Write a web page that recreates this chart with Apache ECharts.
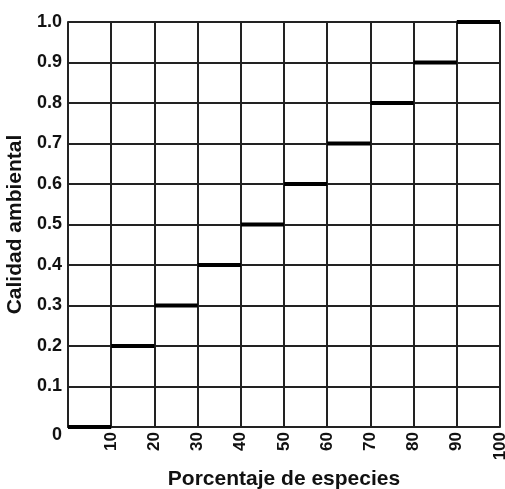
<!DOCTYPE html>
<html>
<head>
<meta charset="utf-8">
<style>
  html, body { margin: 0; padding: 0; background: #fff; }
  #main { width: 505px; height: 489px; }
</style>
<script src="https://cdn.jsdelivr.net/npm/echarts@6/dist/echarts.min.js"></script>
</head>
<body>
<div id="main"></div>
<script>
// step segments: each one runs from start to start + 10
var stepStarts = [0, 10, 20, 30, 40, 50, 60, 70, 80, 90];
var stepLevels = [0, 0.2, 0.3, 0.4, 0.5, 0.6, 0.7, 0.8, 0.9, 1.0];
var stepWidth = 10;

var chartDom = document.getElementById('main');
var myChart = echarts.init(chartDom, null, { renderer: 'canvas' });

var segData = stepStarts.map(function (s, i) {
  return [s, s + stepWidth, stepLevels[i]];
});

var font = 'Liberation Sans';

var option = {
  backgroundColor: '#ffffff',
  animation: false,
  grid: { left: 68, right: 5, top: 22, bottom: 62, containLabel: false, outerBoundsMode: 'none' },
  xAxis: {
    type: 'value',
    min: 0, max: 100, interval: 10,
    name: 'Porcentaje de especies',
    nameLocation: 'middle',
    nameGap: 42,
    nameTextStyle: { fontFamily: font, fontWeight: 'bold', fontSize: 21, color: '#111' },
    axisLine: { show: true, lineStyle: { color: '#222', width: 2 } },
    axisTick: { show: false },
    axisLabel: {
      rotate: 90,
      margin: 5,
      fontFamily: font, fontWeight: 'bold', fontSize: 17, color: '#111',
      formatter: function (v) { return v === 0 ? '' : String(v); }
    },
    splitLine: { show: true, lineStyle: { color: '#222', width: 2 } }
  },
  yAxis: {
    type: 'value',
    min: 0, max: 1, interval: 0.1,
    name: 'Calidad ambiental',
    nameLocation: 'middle',
    nameGap: 37,
    nameTextStyle: { fontFamily: font, fontWeight: 'bold', fontSize: 21, color: '#111' },
    axisLine: { show: true, lineStyle: { color: '#222', width: 2 } },
    axisTick: { show: false },
    axisLabel: {
      margin: 6,
      fontFamily: font, fontWeight: 'bold', fontSize: 18, color: '#111',
      formatter: function (v) { return v === 0 ? '{z|0}' : v.toFixed(1); },
      rich: { z: { fontFamily: font, fontWeight: 'bold', fontSize: 18, color: '#111', padding: [16, 0, 0, 0] } }
    },
    splitLine: { show: true, lineStyle: { color: '#222', width: 2 } }
  },
  series: [{
    type: 'custom',
    data: segData,
    encode: { x: [0, 1], y: 2 },
    renderItem: function (params, api) {
      var p0 = api.coord([api.value(0), api.value(2)]);
      var p1 = api.coord([api.value(1), api.value(2)]);
      return {
        type: 'line',
        shape: { x1: p0[0], y1: p0[1], x2: p1[0], y2: p1[1] },
        style: { stroke: '#000', lineWidth: 4 }
      };
    },
    z: 5
  }]
};

myChart.setOption(option);
window.addEventListener('resize', function () { myChart.resize(); });
</script>
</body>
</html>
